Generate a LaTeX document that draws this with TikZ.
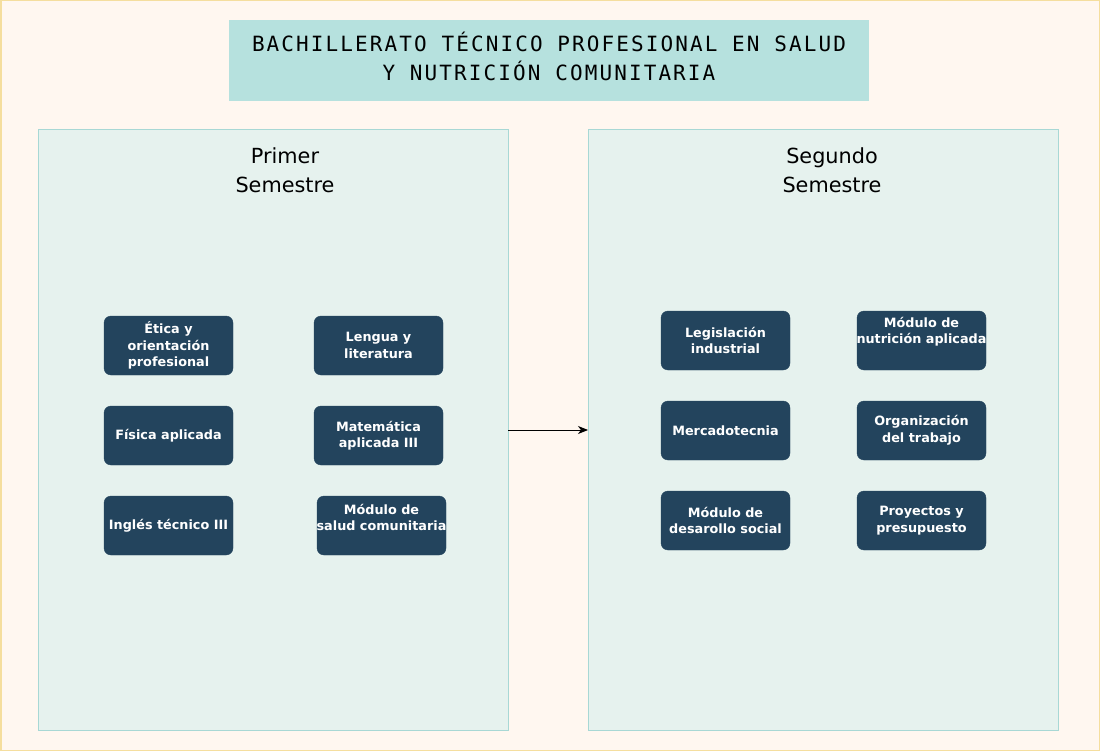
\documentclass[tikz,border=0pt]{standalone}
\usepackage{fontspec}
\setmainfont{DejaVu Sans}
\newfontfamily\titlefont[LetterSpace=10]{DejaVu Sans Mono}
\newfontfamily\boxfont{DejaVu Sans}
\usetikzlibrary{arrows.meta}
\definecolor{bgc}{HTML}{FFF7F0}
\definecolor{bgborder}{HTML}{F5DE9E}
\definecolor{panelfill}{HTML}{E6F2EE}
\definecolor{panelline}{HTML}{A8D8D5}
\definecolor{titlefill}{HTML}{B6E1DE}
\definecolor{boxfill}{HTML}{23445D}
\tikzset{
  panel/.style={draw=panelline, fill=panelfill, line width=1pt},
  subj/.style={draw=boxfill, fill=boxfill, rounded corners=7pt, minimum width=129pt, minimum height=59pt, inner sep=0pt},
  subjtext/.style={text=white, align=center, font=\boxfont\bfseries\fontsize{12.8}{16.5}\selectfont, inner sep=0pt},
  semtitle/.style={align=center, font=\fontsize{20.8}{29}\selectfont, inner sep=0pt, text=black},
  conn/.style={-{Stealth[length=10pt,width=8pt,inset=3pt]}, line width=1pt, black}
}
\begin{document}
\begin{tikzpicture}[x=1pt,y=-1pt]
\useasboundingbox (0,0) rectangle (1100,751);
\draw[fill=bgc, draw=bgborder, line width=1.5pt] (0.75,0.75) rectangle (1099.25,750.25);
% title
\node[fill=titlefill, draw=titlefill, minimum width=639pt, minimum height=80pt, inner sep=0pt] (title) at (548.5,60) {};
\node[align=center, font=\titlefont\fontsize{21}{29}\selectfont, inner sep=0pt] (titletext) at (549,56.5) {BACHILLERATO TÉCNICO PROFESIONAL EN SALUD\\Y NUTRICIÓN COMUNITARIA};
% panels
\draw[panel] (38,130) rectangle (508,730);
\draw[panel] (588,130) rectangle (1058,730);
\coordinate (p1e) at (508,430);
\coordinate (p2w) at (588,430);
\node[semtitle] (t1) at (285,170.5) {Primer\\Semestre};
\node[semtitle] (t2) at (832,170.5) {Segundo\\Semestre};
% first semester boxes
\node[subj] (b1) at (168.5,345.5) {};
\node[subjtext] at (b1) {Ética y\\orientación\\profesional};
\node[subj] (b2) at (378.5,345.5) {};
\node[subjtext] at (b2) {Lengua y\\literatura};
\node[subj] (b3) at (168.5,435.5) {};
\node[subjtext] at (b3) {Física aplicada};
\node[subj] (b4) at (378.5,435.5) {};
\node[subjtext] at (b4) {Matemática\\aplicada III};
\node[subj] (b5) at (168.5,525.5) {};
\node[subjtext] at (b5) {Inglés técnico III};
\node[subj] (b6) at (381.5,525.5) {};
\node[subjtext] at ([yshift=8pt]b6) {Módulo de\\salud comunitaria};
% second semester boxes
\node[subj] (c1) at (725.5,340.5) {};
\node[subjtext] at (c1) {Legislación\\industrial};
\node[subj] (c2) at (921.5,340.5) {};
\node[subjtext] at ([yshift=9pt]c2) {Módulo de\\nutrición aplicada};
\node[subj] (c3) at (725.5,430.5) {};
\node[subjtext] at (c3) {Mercadotecnia};
\node[subj] (c4) at (921.5,430.5) {};
\node[subjtext] at (c4) {Organización\\del trabajo};
\node[subj] (c5) at (725.5,520.5) {};
\node[subjtext] at (c5) {Módulo de\\desarollo social};
\node[subj] (c6) at (921.5,520.5) {};
\node[subjtext] at (c6) {Proyectos y\\presupuesto};
% connector
\draw[conn] (p1e) -- (p2w);
\end{tikzpicture}
\end{document}
